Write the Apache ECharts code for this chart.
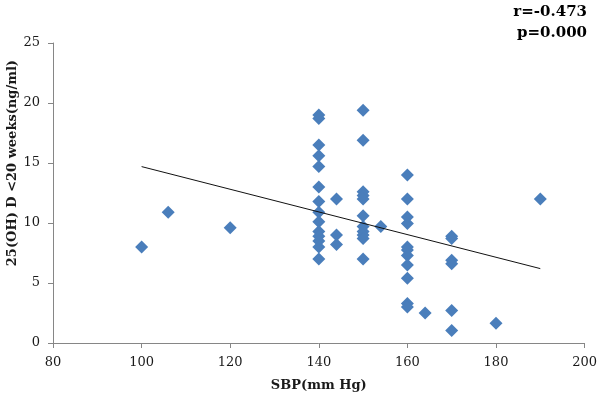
<!DOCTYPE html>
<html>
<head>
<meta charset="utf-8">
<script src="https://cdn.jsdelivr.net/npm/echarts@6/dist/echarts.min.js"></script>
<style>
  html, body { margin: 0; padding: 0; background: #fff; }
  #chart { width: 600px; height: 397px; }
</style>
</head>
<body>
<div id="chart"></div>
<script>
// SBP (mm Hg) vs 25(OH)D < 20 weeks (ng/ml)
var sbp = [
  100, 106, 120,
  140, 140, 140, 140, 140, 140, 140, 140, 140, 140, 140, 140, 140, 140,
  144, 144, 144,
  150, 150, 150, 150, 150, 150, 150, 150, 150, 150, 150,
  154,
  160, 160, 160, 160, 160, 160, 160, 160, 160, 160, 160,
  164,
  170, 170, 170, 170, 170, 170,
  180, 190
];
var vitD = [
  8.0, 10.9, 9.6,
  19.0, 18.7, 16.5, 15.6, 14.7, 13.0, 11.8, 10.9, 10.1, 9.3, 8.9, 8.5, 8.0, 7.0,
  12.0, 9.0, 8.2,
  19.4, 16.9, 12.6, 12.3, 12.0, 10.6, 9.7, 9.3, 9.0, 8.7, 7.0,
  9.7,
  14.0, 12.0, 10.5, 9.95, 8.0, 7.75, 7.3, 6.5, 5.4, 3.3, 3.0,
  2.5,
  8.9, 8.7, 6.9, 6.6, 2.7, 1.05,
  1.65, 12.0
];
// linear trend line end points
var trendX = [100, 190];
var trendY = [14.7, 6.2];

var xTicks = [80, 200, 20];
var yTicks = [0, 25, 5];

var points = sbp.map(function (x, i) { return [x, vitD[i]]; });
var trend = trendX.map(function (x, i) { return [x, trendY[i]]; });

var myChart = echarts.init(document.getElementById('chart'));

var axisColor = '#868686';
var labelFont = 'DejaVu Serif';

var option = {
  backgroundColor: '#ffffff',
  animation: false,
  grid: {
    left: 53,
    right: 14,
    top: 43,
    bottom: 52
  },
  xAxis: {
    type: 'value',
    min: xTicks[0],
    max: xTicks[1],
    interval: xTicks[2],
    name: 'SBP(mm Hg)',
    nameLocation: 'middle',
    nameGap: 36,
    nameTextStyle: {
      fontFamily: labelFont,
      fontWeight: 'bold',
      fontSize: 13,
      color: '#1a1a1a'
    },
    axisLine: { lineStyle: { color: axisColor, width: 1 } },
    axisTick: { show: true, length: 5, lineStyle: { color: axisColor } },
    axisLabel: {
      margin: 13,
      fontFamily: labelFont,
      fontSize: 13,
      color: '#1a1a1a'
    },
    splitLine: { show: false }
  },
  yAxis: {
    type: 'value',
    min: yTicks[0],
    max: yTicks[1],
    interval: yTicks[2],
    axisLine: { show: true, lineStyle: { color: axisColor, width: 1 } },
    axisTick: { show: true, length: 5, lineStyle: { color: axisColor } },
    axisLabel: {
      margin: 13,
      fontFamily: labelFont,
      fontSize: 13,
      color: '#1a1a1a'
    },
    splitLine: { show: false }
  },
  graphic: [
    {
      type: 'text',
      left: 6,
      top: 60,
      rotation: Math.PI / 2,
      style: {
        text: '25(OH) D <20 weeks(ng/ml)',
        font: 'bold 13px "DejaVu Serif"',
        fill: '#1a1a1a'
      }
    },
    {
      type: 'text',
      right: 13,
      top: 2,
      style: {
        text: 'r=-0.473\np=0.000',
        font: 'bold 15px "DejaVu Serif"',
        fill: '#000',
        textAlign: 'right',
        lineHeight: 21
      }
    }
  ],
  series: [
    {
      type: 'scatter',
      symbol: 'diamond',
      symbolSize: 13,
      itemStyle: { color: '#4a7ebb', opacity: 1 },
      data: points,
      z: 2
    },
    {
      type: 'line',
      data: trend,
      showSymbol: false,
      symbol: 'none',
      lineStyle: { color: '#111', width: 1 },
      z: 3
    }
  ]
};

myChart.setOption(option);

window.addEventListener('resize', function () {
  myChart.resize();
});
</script>
</body>
</html>
